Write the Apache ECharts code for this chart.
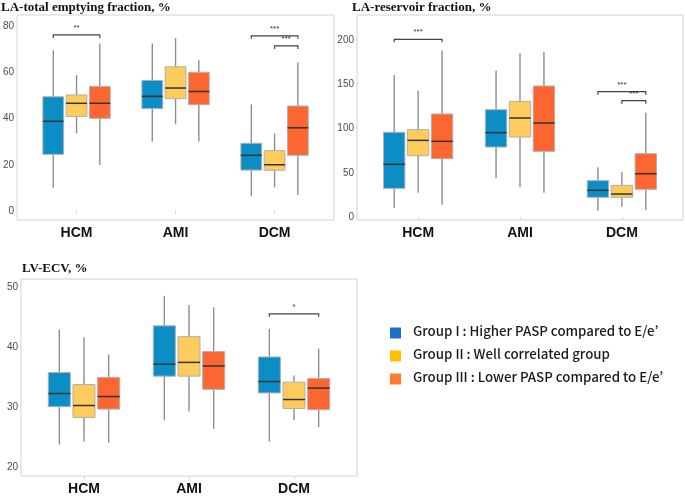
<!DOCTYPE html>
<html><head><meta charset="utf-8">
<script src="https://cdn.jsdelivr.net/npm/echarts@6/dist/echarts.min.js"></script>
<style>html,body{margin:0;padding:0;background:#fff}#c{width:685px;height:496px}</style>
</head><body><div id="c"></div><script>
const categories = ['HCM', 'AMI', 'DCM'];
const groupNames = ['Group I : Higher PASP compared to E/e’', 'Group II : Well correlated group', 'Group III : Lower PASP compared to E/e’'];
const panelTitles = ['LA-total emptying fraction, %', 'LA-reservoir fraction, %', 'LV-ECV, %'];
// [min, Q1, median, Q3, max] for HCM, AMI, DCM
const laTotalGroup1 = [[10.1, 24.5, 38.8, 49.4, 69.6], [30.1, 44.3, 49.6, 56.5, 72.5], [6.5, 17.7, 24.1, 29.3, 46.1]];
const laTotalGroup2 = [[33.6, 40.9, 46.6, 50.2, 58.8], [37.6, 48.6, 53.2, 62.4, 74.8], [10.2, 17.6, 20.0, 26.1, 33.6]];
const laTotalGroup3 = [[19.9, 40.1, 46.6, 53.9, 72.5], [30.1, 46.0, 51.7, 60.0, 65.2], [6.9, 24.1, 36.0, 45.4, 64.4]];
const laReservoirGroup1 = [[10.5, 32.7, 59.8, 95.9, 160.5], [44.0, 79.3, 95.5, 121.4, 165.4], [7.5, 22.6, 30.5, 41.4, 56.4]];
const laReservoirGroup2 = [[27.8, 69.5, 86.8, 98.9, 142.9], [33.8, 90.6, 112.0, 130.8, 185.0], [12.0, 22.6, 26.3, 36.1, 51.1]];
const laReservoirGroup3 = [[14.3, 66.2, 85.7, 116.5, 188.3], [27.8, 74.4, 106.4, 148.1, 186.5], [8.3, 31.6, 49.2, 71.8, 118.0]];
const lvEcvGroup1 = [[23.8, 30.1, 32.3, 35.8, 43.0], [27.9, 35.2, 37.2, 43.6, 48.6], [24.3, 32.4, 34.3, 38.4, 43.1]];
const lvEcvGroup2 = [[24.3, 28.3, 30.3, 33.8, 41.7], [29.3, 35.2, 37.5, 41.8, 47.1], [27.9, 29.8, 31.3, 34.2, 35.3]];
const lvEcvGroup3 = [[24.1, 29.7, 31.8, 35.0, 38.8], [26.4, 33.0, 36.9, 39.3, 46.7], [26.7, 29.6, 33.2, 34.8, 39.8]];
// significance brackets: [category index, from group, to group, y, label]
const laTotalSig = [[0, 0, 2, 76.2, '**'], [2, 0, 2, 75.8, '***'], [2, 1, 2, 71.4, '***']];
const laReservoirSig = [[0, 0, 2, 200.8, '***'], [2, 0, 2, 141.7, '***'], [2, 1, 2, 131.6, '***']];
const lvEcvSig = [[2, 0, 2, 45.6, '*']];
const laTotalTicks = [0, 20, 40, 60, 80];
const laReservoirTicks = [0, 50, 100, 150, 200];
const lvEcvTicks = [20, 30, 40, 50];

const boxColors = ['#0b8ec5', '#fecb5d', '#fd6630'];
const legendColors = ['#1d6fc5', '#ffc000', '#fd7b2b'];
const offsets = [-0.235, 0, 0.235];
const boxW = 0.21;

const panels = [
  { groups: [laTotalGroup1, laTotalGroup2, laTotalGroup3], sig: laTotalSig, ticks: laTotalTicks,
    grid: { left: 15, top: 15, width: 319, height: 205 }, min: -3.9, max: 84.8, titlePos: [1, 1] },
  { groups: [laReservoirGroup1, laReservoirGroup2, laReservoirGroup3], sig: laReservoirSig, ticks: laReservoirTicks,
    grid: { left: 357, top: 15, width: 326, height: 205 }, min: -3.0, max: 228.2, titlePos: [352, 1] },
  { groups: [lvEcvGroup1, lvEcvGroup2, lvEcvGroup3], sig: lvEcvSig, ticks: lvEcvTicks,
    grid: { left: 21, top: 279, width: 336, height: 201 }, min: 18.53, max: 51.42, titlePos: [22, 262] }
];

function boxRender(g) {
  return function (params, api) {
    const x = api.value(0) + offsets[g];
    const pMin = api.coord([x, api.value(1)]);
    const pQ1 = api.coord([x, api.value(2)]);
    const pMed = api.coord([x, api.value(3)]);
    const pQ3 = api.coord([x, api.value(4)]);
    const pMax = api.coord([x, api.value(5)]);
    const w = api.size([boxW, 0])[0];
    const cx = pMed[0];
    return { type: 'group', children: [
      { type: 'line', shape: { x1: cx, y1: pMin[1], x2: cx, y2: pQ1[1] }, style: { stroke: '#8e8e8e', lineWidth: 1.4 } },
      { type: 'line', shape: { x1: cx, y1: pQ3[1], x2: cx, y2: pMax[1] }, style: { stroke: '#8e8e8e', lineWidth: 1.4 } },
      { type: 'rect', shape: { x: cx - w / 2, y: pQ3[1], width: w, height: pQ1[1] - pQ3[1] }, style: { fill: boxColors[g], stroke: '#b0b0b0', lineWidth: 1 } },
      { type: 'line', shape: { x1: cx - w / 2, y1: pMed[1], x2: cx + w / 2, y2: pMed[1] }, style: { stroke: '#333333', lineWidth: 1.5 } }
    ] };
  };
}

function sigRender(params, api) {
  const cat = api.value(0);
  const x1 = cat + offsets[api.value(1)];
  const x2 = cat + offsets[api.value(2)];
  const y = api.value(3);
  const p1 = api.coord([x1, y]);
  const p2 = api.coord([x2, y]);
  return { type: 'group', children: [
    { type: 'polyline', shape: { points: [[p1[0], p1[1] + 3], [p1[0], p1[1]], [p2[0], p2[1]], [p2[0], p2[1] + 3]] }, style: { stroke: '#444', lineWidth: 1.2, fill: null } },
    { type: 'text', style: { text: api.value(4), x: (p1[0] + p2[0]) / 2, y: p1[1] - 3, align: 'center', verticalAlign: 'bottom', fontSize: 8, fill: '#333', fontFamily: 'Liberation Sans' } }
  ] };
}

const grid = [], xAxis = [], yAxis = [], series = [], title = [];
panels.forEach((p, i) => {
  grid.push(Object.assign({ show: true, borderColor: '#d2d2d2', borderWidth: 1, backgroundColor: '#fff' }, p.grid));
  xAxis.push({ type: 'value', gridIndex: i, min: 0.4, max: 3.6,
    axisLine: { show: false }, splitLine: { show: false },
    axisTick: { show: true, customValues: [1, 2, 3], length: 3, lineStyle: { color: '#d2d2d2' } },
    axisLabel: { customValues: [1, 2, 3], formatter: v => categories[Math.round(v) - 1], fontSize: 14, fontWeight: 'bold', color: '#111', fontFamily: 'Liberation Sans', margin: 6 } });
  yAxis.push({ type: 'value', gridIndex: i, min: p.min, max: p.max,
    axisLine: { show: false }, splitLine: { show: false }, axisTick: { show: false },
    axisLabel: { customValues: p.ticks, fontSize: 10, color: '#4d4d4d', fontFamily: 'Liberation Sans', margin: 3 } });
  p.groups.forEach((gData, g) => {
    series.push({ type: 'custom', name: groupNames[g], xAxisIndex: i, yAxisIndex: i, renderItem: boxRender(g),
      encode: { x: 0, y: [1, 2, 3, 4, 5] }, silent: true,
      data: gData.map((d, c) => [c + 1].concat(d)) });
  });
  series.push({ type: 'custom', xAxisIndex: i, yAxisIndex: i, renderItem: sigRender, silent: true,
    encode: { x: 0, y: 3 },
    data: p.sig.map(s => [s[0] + 1, s[1], s[2], s[3], s[4]]) });
  title.push({ text: panelTitles[i], left: p.titlePos[0], top: p.titlePos[1], padding: 0,
    textStyle: { fontFamily: 'Liberation Serif', fontWeight: 'bold', fontSize: 13, color: '#111' } });
});

const graphic = [];
groupNames.forEach((n, g) => {
  const cy = 333 + g * 23;
  graphic.push({ type: 'rect', left: 390, top: cy - 5.5, shape: { width: 11, height: 11 }, style: { fill: legendColors[g] } });
  graphic.push({ type: 'text', left: 413, top: cy - 9, style: { text: n, fontSize: 13.3, fill: '#1a1a1a', fontFamily: 'Noto Sans CJK KR', fontWeight: 500 } });
});

const chart = echarts.init(document.getElementById('c'), null, { renderer: 'canvas' });
chart.setOption({ animation: false, backgroundColor: '#fff', title, grid, xAxis, yAxis, series, graphic });
</script></body></html>
